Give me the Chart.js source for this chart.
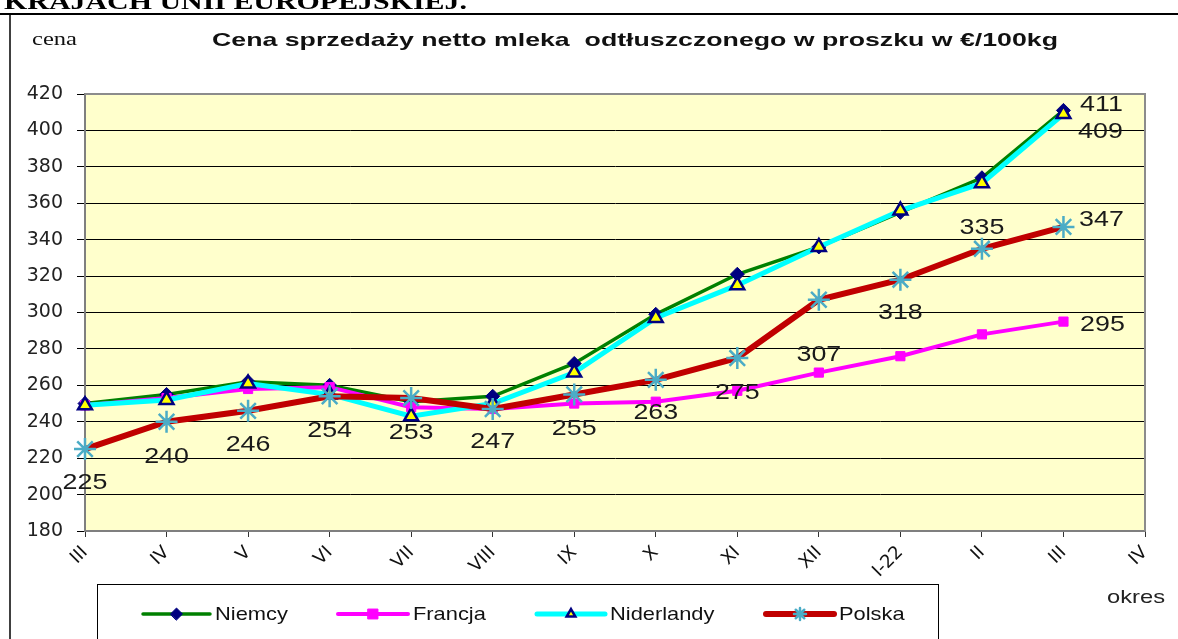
<!DOCTYPE html>
<html>
<head>
<meta charset="utf-8">
<script src="https://cdn.jsdelivr.net/npm/chart.js@4.4.1/dist/chart.umd.min.js"></script>
<style>
  html, body { margin: 0; padding: 0; background: #fff; }
  #wrap { position: relative; width: 1178px; height: 639px; }
</style>
</head>
<body>
<div id="wrap"><canvas id="milkChart"></canvas></div>
<script>
// okresy (miesiace)
const months = ['III', 'IV', 'V', 'VI', 'VII', 'VIII', 'IX', 'X', 'XI', 'XII', 'I-22', 'II', 'III', 'IV'];

// ceny w EUR/100kg
const niemcy     = [250, 255, 262, 260, 251, 254, 272, 299, 321, 336, 355, 374, 411];
const francja    = [249, 253, 258, 259, 248, 247, 250, 251, 257, 267, 276, 288, 295];
const niderlandy = [249, 252, 261, 255, 243, 250, 267, 297, 315, 336, 356, 371, 409];
const polska     = [225, 240, 246, 254, 253, 247, 255, 263, 275, 307, 318, 335, 347];

const yMin = 180;
const yMax = 420;
const yStep = 20;

// where the value labels sit relative to their point (px), null = no label
const polskaLabelPos = [[0, 34], [0, 35], [0, 34], [0, 35], [0, 35], [0, 33], [0, 34],
                        [0, 33], [0, 35], [0, 55], [0, 33], [0, -21], [38, -7]];
function lastOnly(dx, dy) {
    const arr = months.slice(0, 13).map(() => null);
    arr[12] = [dx, dy];
    return arr;
}

const TEXT_STRETCH = 1.22;

function stretchText(ctx, text, x, y, align, sx) {
    ctx.save();
    ctx.translate(x, y);
    ctx.scale(sx, 1);
    ctx.textAlign = align;
    ctx.fillText(text, 0, 0);
    ctx.restore();
}

function fitText(ctx, text, x, y, width) {
    const w = ctx.measureText(text).width;
    stretchText(ctx, text, x, y, 'left', width / w);
}

const frameAndBackground = {
    id: 'frameAndBackground',
    beforeDraw(chart) {
        const ctx = chart.ctx;
        const a = chart.chartArea;
        ctx.save();
        ctx.fillStyle = '#FFFFCC';
        ctx.fillRect(a.left, a.top, a.right - a.left, a.bottom - a.top);

        // page header (cut at top) and outer frame
        ctx.fillStyle = '#000';
        ctx.font = 'bold 24px "Liberation Serif"';
        ctx.textBaseline = 'alphabetic';
        fitText(ctx, 'KRAJACH UNII EUROPEJSKIEJ.', 4, 9, 463);
        ctx.strokeStyle = '#000';
        ctx.lineWidth = 2;
        ctx.beginPath();
        ctx.moveTo(0, 14);
        ctx.lineTo(1178, 14);
        ctx.stroke();
        ctx.lineWidth = 1.5;
        ctx.beginPath();
        ctx.moveTo(10, 14);
        ctx.lineTo(10, 639);
        ctx.stroke();

        // title and axis captions
        ctx.textBaseline = 'middle';
        ctx.fillStyle = '#111';
        ctx.font = 'bold 19px "Liberation Sans"';
        fitText(ctx, 'Cena sprzedaży netto mleka  odtłuszczonego w proszku w €/100kg', 212, 41, 846);
        ctx.font = '18px "Liberation Serif"';
        fitText(ctx, 'cena', 32, 40, 45);
        ctx.font = '19px "Liberation Sans"';
        ctx.fillStyle = '#222';
        fitText(ctx, 'okres', 1107, 598, 58);
        ctx.restore();
    },
    beforeDatasetsDraw(chart) {
        const ctx = chart.ctx;
        const a = chart.chartArea;
        ctx.save();
        ctx.strokeStyle = '#8c8c8c';
        ctx.lineWidth = 2;
        ctx.beginPath();
        ctx.moveTo(a.left, a.top);
        ctx.lineTo(a.right, a.top);
        ctx.lineTo(a.right, a.bottom);
        ctx.stroke();
        ctx.restore();
    }
};

const valueLabels = {
    id: 'valueLabels',
    afterDatasetsDraw(chart) {
        const ctx = chart.ctx;
        ctx.save();
        ctx.font = '22px "Liberation Sans"';
        ctx.fillStyle = '#1a1a1a';
        ctx.textBaseline = 'middle';
        chart.data.datasets.forEach((ds, di) => {
            if (!ds.valueLabels) return;
            const meta = chart.getDatasetMeta(di);
            ds.valueLabels.forEach((pos, i) => {
                if (!pos || !meta.data[i]) return;
                const pt = meta.data[i];
                stretchText(ctx, String(ds.data[i]), pt.x + pos[0], pt.y + pos[1], 'center', TEXT_STRETCH);
            });
        });
        ctx.restore();
    }
};

// legend box at the bottom, drawn like the spreadsheet one
const boxLegend = {
    id: 'boxLegend',
    afterDraw(chart) {
        const ctx = chart.ctx;
        const items = [[143, 210], [338, 408], [537, 605], [766, 834]];
        const y = 614;
        ctx.save();
        ctx.strokeStyle = '#000';
        ctx.lineWidth = 1;
        ctx.strokeRect(97.5, 584.5, 841, 80);
        chart.data.datasets.forEach((ds, i) => {
            const [x0, x1] = items[i];
            ctx.strokeStyle = ds.borderColor;
            ctx.lineWidth = ds.borderWidth;
            ctx.lineCap = 'round';
            ctx.beginPath();
            ctx.moveTo(x0, y);
            ctx.lineTo(x1, y);
            ctx.stroke();
            ctx.fillStyle = ds.pointBackgroundColor;
            ctx.strokeStyle = ds.pointBorderColor;
            ctx.lineWidth = ds.pointBorderWidth;
            Chart.helpers.drawPoint(ctx, {
                pointStyle: ds.pointStyle,
                radius: ds.legendRadius,
                borderWidth: ds.pointBorderWidth,
                rotation: 0
            }, (x0 + x1) / 2, y);
            ctx.fillStyle = '#111';
            ctx.font = '19px "Liberation Sans"';
            ctx.textBaseline = 'middle';
            stretchText(ctx, ds.label, x1 + 5, y + 1, 'left', 1.15);
        });
        ctx.restore();
    }
};

const chartData = {
    labels: months,
    datasets: [
        {
            label: 'Niemcy',
            data: niemcy,
            borderColor: '#008000',
            borderWidth: 3.5,
            pointStyle: 'rectRot',
            pointRadius: 7,
            legendRadius: 6,
            pointBackgroundColor: '#000080',
            pointBorderColor: '#000080',
            pointBorderWidth: 1,
            order: 4,
            valueLabels: lastOnly(38, -5)
        },
        {
            label: 'Francja',
            data: francja,
            borderColor: '#FF00FF',
            borderWidth: 4,
            pointStyle: 'rect',
            pointRadius: 6.5,
            legendRadius: 7,
            pointBackgroundColor: '#FF00FF',
            pointBorderColor: '#FF00FF',
            pointBorderWidth: 1,
            order: 3,
            valueLabels: lastOnly(39, 3)
        },
        {
            label: 'Niderlandy',
            data: niderlandy,
            borderColor: '#00FFFF',
            borderWidth: 5,
            pointStyle: 'triangle',
            pointRadius: 8,
            legendRadius: 5,
            pointBackgroundColor: '#FFFF00',
            pointBorderColor: '#000080',
            pointBorderWidth: 2.5,
            order: 2,
            valueLabels: lastOnly(37, 18)
        },
        {
            label: 'Polska',
            data: polska,
            borderColor: '#C00000',
            borderWidth: 6,
            pointStyle: 'star',
            pointRadius: 11,
            legendRadius: 6,
            pointBackgroundColor: '#4BACC6',
            pointBorderColor: '#4BACC6',
            pointBorderWidth: 2.5,
            order: 1,
            valueLabels: polskaLabelPos
        }
    ]
};

const chartConfig = {
    type: 'line',
    data: chartData,
    options: {
        responsive: true,
        maintainAspectRatio: false,
        animation: false,
        devicePixelRatio: 1,
        layout: {
            padding: { top: 94, right: 33, left: 0, bottom: 0 }
        },
        elements: {
            line: { tension: 0 },
            point: { hoverRadius: 8 }
        },
        datasets: {
            line: { clip: false, fill: false }
        },
        plugins: {
            legend: { display: false },
            title: { display: false },
            tooltip: { enabled: false }
        },
        scales: {
            x: {
                offset: false,
                afterFit: (scale) => { scale.height = 108; },
                grid: {
                    drawOnChartArea: false,
                    drawTicks: true,
                    tickLength: 6,
                    color: '#333'
                },
                border: { color: '#7f7f7f', width: 2 },
                ticks: {
                    autoSkip: false,
                    minRotation: 45,
                    maxRotation: 45,
                    padding: 5,
                    color: '#111',
                    font: { family: 'DejaVu Sans', size: 18 }
                }
            },
            y: {
                min: yMin,
                max: yMax,
                afterFit: (scale) => { scale.width = 85; },
                grid: {
                    color: '#000',
                    lineWidth: 1,
                    tickLength: 8
                },
                border: { color: '#7f7f7f', width: 2 },
                ticks: {
                    stepSize: yStep,
                    padding: 14,
                    color: '#222',
                    font: { family: 'DejaVu Sans', size: 19 }
                }
            }
        }
    },
    plugins: [frameAndBackground, valueLabels, boxLegend]
};

const milkChart = new Chart(document.getElementById('milkChart'), chartConfig);
</script>
</body>
</html>
